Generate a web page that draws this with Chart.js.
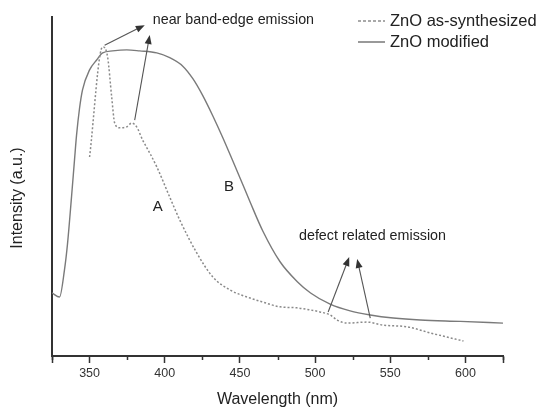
<!DOCTYPE html>
<html>
<head>
<meta charset="utf-8">
<script src="https://cdn.jsdelivr.net/npm/chart.js@4/dist/chart.umd.min.js"></script>
<style>
html,body{margin:0;padding:0;background:#fff;}
#wrap{width:541px;height:408px;}
</style>
</head>
<body>
<div id="wrap"><canvas id="c" width="541" height="408"></canvas></div>
<script>
// ---- Data ----
const wavelengthModified = [325,330,333.3,335.3,338,340,341.3,343.3,345.3,350,354.7,358.7,365.3,374.7,383.3,394.7,403.3,412,418.7,425.3,432,438.7,445.3,450,456.7,465.3,476.7,488,497,510,523.3,536.7,552,570,596.7,625];
const intensityModified  = [18.6,17.4,25.4,33,47,58,65,73,78.5,84.4,87.3,89.4,90.0,90.3,90.0,89.4,88.0,85.5,81.8,76.8,70.8,64.3,57.5,52.6,45.5,36.8,27.8,22.0,18.6,15.3,13.3,12.1,11.2,10.6,10.2,9.7];

const wavelengthAsSynth = [350,358.7,362,364.7,366.7,370,374.7,378,381.3,385.3,390,394.7,403.3,410,421.3,432,443.3,456.7,465.3,476.7,488,496.7,503.3,510,514.7,521.3,534.7,545.3,561.3,576.7,598.7];
const intensityAsSynth  = [58.7,91.2,88.2,76.4,68.7,67.3,67.6,68.7,67.6,63.7,59.9,55.8,46.9,40.1,30.4,23.3,19.5,17.1,15.9,14.5,14.2,13.6,13.0,12.1,10.6,9.7,10.0,9.1,8.6,6.8,4.4];

const seriesNames = ["ZnO as-synthesized", "ZnO modified"];
const xTickValues = [325,350,375,400,425,450,475,500,525,550,575,600,625];
const xTitle = "Wavelength (nm)";
const yTitle = "Intensity (a.u.)";

// annotations in data coordinates: [text, wavelength, intensity]
const annotationTexts = [
  ["near band-edge emission", 392, 99.1],
  ["defect related emission", 489.3, 35.4],
  ["A", 395.3, 44],
  ["B", 442.7, 49.9]
];
// arrows: [fromX, fromY, toX, toY] in data coords
const arrows = [
  [360, 91.7, 386.7, 97.6],
  [380, 69.6, 390, 94.7],
  [508.7, 13.0, 522.7, 29.2],
  [536.7, 11.2, 528, 28.6]
];

const toPts = (xs, ys) => xs.map((x, i) => ({x: x, y: ys[i]}));

const FONT = "'Liberation Sans', Arial, sans-serif";

const decor = {
  id: 'decor',
  afterDraw(chart) {
    const ctx = chart.ctx;
    const xs = chart.scales.x, ys = chart.scales.y;
    const ca = chart.chartArea;
    ctx.save();
    // minor ticks
    ctx.strokeStyle = '#333';
    ctx.lineWidth = 1.5;
    xTickValues.forEach(v => {
      if (v % 50 !== 0) {
        const px = Math.round(xs.getPixelForValue(v)) + 0.5;
        ctx.beginPath();
        ctx.moveTo(px, ca.bottom);
        ctx.lineTo(px, ca.bottom + 4);
        ctx.stroke();
      }
    });
    // arrows
    ctx.strokeStyle = '#555';
    ctx.fillStyle = '#333';
    ctx.lineWidth = 1.1;
    arrows.forEach(a => {
      const x1 = xs.getPixelForValue(a[0]), y1 = ys.getPixelForValue(a[1]);
      const x2 = xs.getPixelForValue(a[2]), y2 = ys.getPixelForValue(a[3]);
      const ang = Math.atan2(y2 - y1, x2 - x1);
      const hl = 9, hw = 3.5;
      ctx.beginPath();
      ctx.moveTo(x1, y1);
      ctx.lineTo(x2 - Math.cos(ang) * hl * 0.8, y2 - Math.sin(ang) * hl * 0.8);
      ctx.stroke();
      ctx.beginPath();
      ctx.moveTo(x2, y2);
      ctx.lineTo(x2 - Math.cos(ang) * hl + Math.sin(ang) * hw, y2 - Math.sin(ang) * hl - Math.cos(ang) * hw);
      ctx.lineTo(x2 - Math.cos(ang) * hl - Math.sin(ang) * hw, y2 - Math.sin(ang) * hl + Math.cos(ang) * hw);
      ctx.closePath();
      ctx.fill();
    });
    // annotation texts
    ctx.fillStyle = '#222';
    ctx.textBaseline = 'middle';
    annotationTexts.forEach(t => {
      const px = xs.getPixelForValue(t[1]), py = ys.getPixelForValue(t[2]);
      if (t[0].length === 1) {
        ctx.font = '15px ' + FONT;
        ctx.textAlign = 'center';
      } else {
        ctx.font = '14.3px ' + FONT;
        ctx.textAlign = 'left';
      }
      ctx.fillText(t[0], px, py);
    });
    // legend
    ctx.textAlign = 'left';
    ctx.font = '16.5px ' + FONT;
    const ds = chart.data.datasets;
    const legY = [21, 42];
    ds.forEach((d, i) => {
      ctx.strokeStyle = '#555';
      ctx.lineWidth = 1.2;
      ctx.setLineDash(d.borderDash && d.borderDash.length ? [3, 2] : []);
      ctx.beginPath();
      ctx.moveTo(358, legY[i]);
      ctx.lineTo(385, legY[i]);
      ctx.stroke();
      ctx.setLineDash([]);
      ctx.fillStyle = '#222';
      ctx.fillText(d.label, 390, legY[i]);
    });
    // y title
    ctx.save();
    ctx.translate(18, 198);
    ctx.rotate(-Math.PI / 2);
    ctx.textAlign = 'center';
    ctx.font = '16px ' + FONT;
    ctx.fillStyle = '#222';
    ctx.fillText(yTitle, 0, 0);
    ctx.restore();
    ctx.restore();
  }
};

new Chart(document.getElementById('c'), {
  type: 'line',
  data: {
    datasets: [
      {
        label: seriesNames[0],
        data: toPts(wavelengthAsSynth, intensityAsSynth),
        borderColor: '#8a8a8a',
        borderWidth: 1.5,
        borderDash: [2, 2],
        pointRadius: 0,
        fill: false,
        cubicInterpolationMode: 'monotone'
      },
      {
        label: seriesNames[1],
        data: toPts(wavelengthModified, intensityModified),
        borderColor: '#7a7a7a',
        borderWidth: 1.4,
        pointRadius: 0,
        fill: false,
        cubicInterpolationMode: 'monotone'
      }
    ]
  },
  options: {
    responsive: false,
    animation: false,
    layout: { padding: { top: 17, right: 38, left: 0, bottom: 0 } },
    plugins: { legend: { display: false }, tooltip: { enabled: false } },
    scales: {
      x: {
        type: 'linear',
        min: 325, max: 625,
        afterBuildTicks: s => { s.ticks = xTickValues.map(v => ({value: v})); },
        afterFit: s => { s.height = 52; },
        ticks: {
          autoSkip: false,
          maxRotation: 0,
          padding: 3,
          color: '#333',
          font: { family: FONT, size: 12.5 },
          callback: v => (v % 50 === 0 && v !== 325 && v !== 625) ? String(v) : ''
        },
        grid: {
          drawOnChartArea: false,
          drawTicks: true,
          tickLength: 7,
          tickWidth: 1.5,
          tickColor: ctx => (ctx.tick && (ctx.tick.value % 50 === 0 || ctx.tick.value === 325 || ctx.tick.value === 625)) ? '#333' : 'rgba(0,0,0,0)'
        },
        border: { display: true, color: '#333', width: 2 },
        title: { display: true, text: xTitle, color: '#222', font: { family: FONT, size: 16, lineHeight: 1 }, padding: { top: 0, bottom: 0 } }
      },
      y: {
        min: 0, max: 100,
        afterFit: s => { s.width = 52; },
        ticks: { display: false },
        grid: { drawOnChartArea: false, drawTicks: false },
        border: { display: true, color: '#333', width: 2 },
        title: { display: false }
      }
    }
  },
  plugins: [decor]
});
</script>
</body>
</html>
